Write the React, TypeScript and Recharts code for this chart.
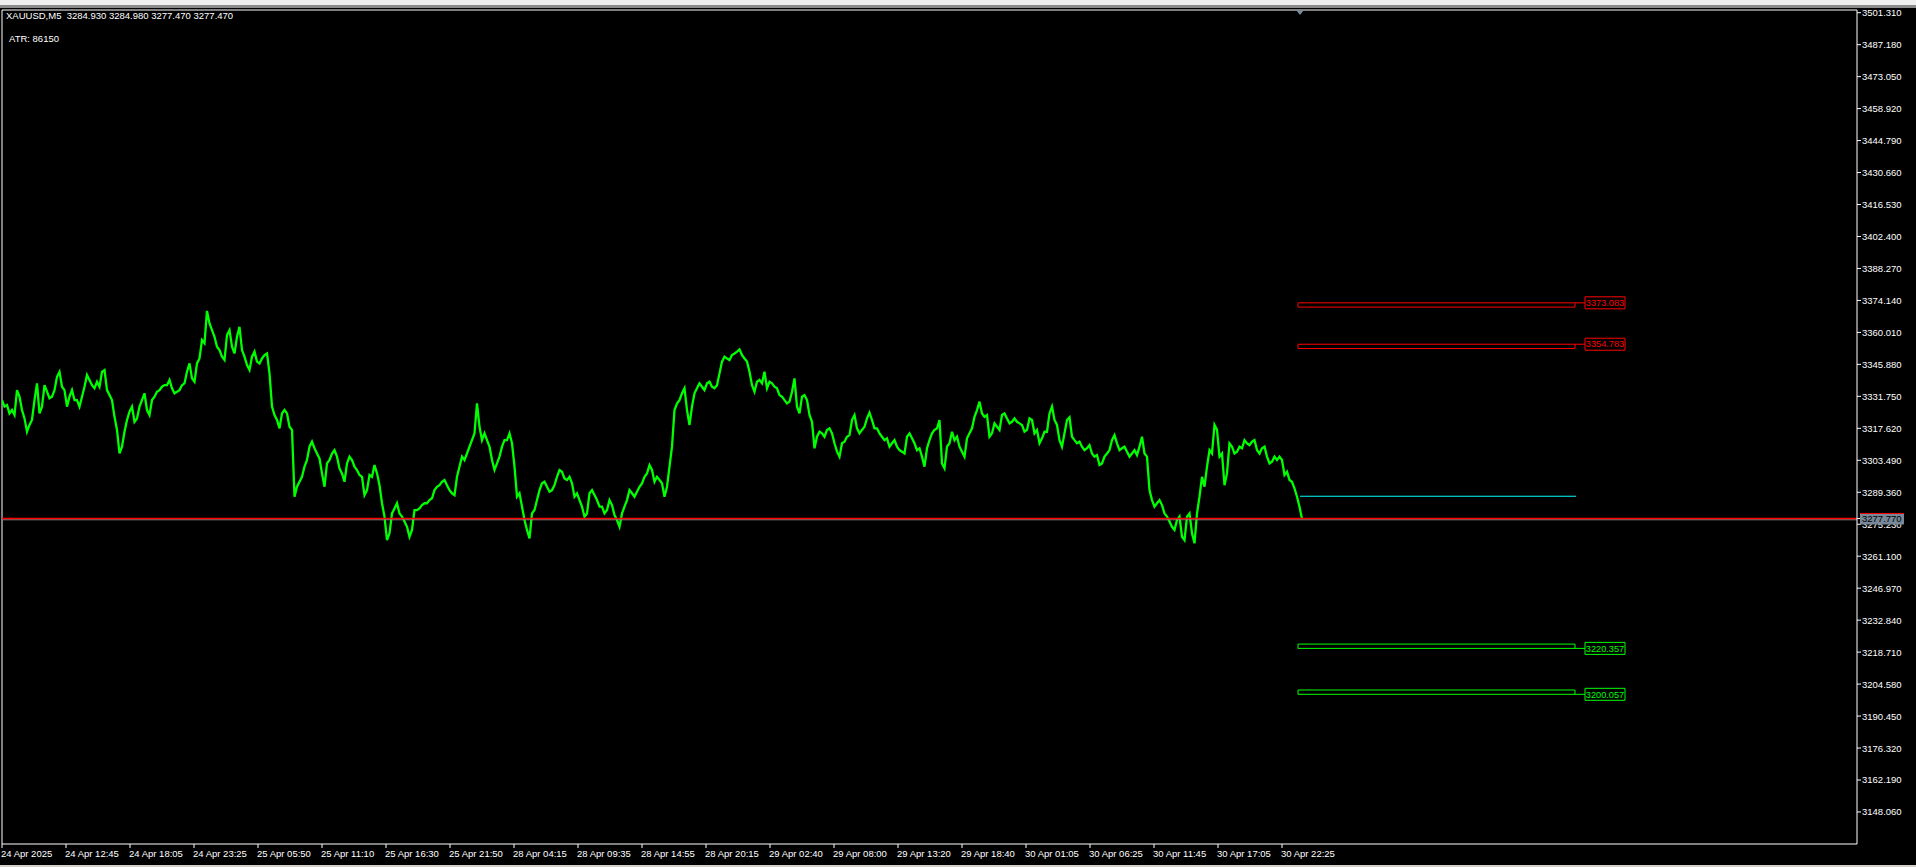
import {
  ComposedChart,
  Line,
  XAxis,
  YAxis,
  ReferenceLine,
  ReferenceArea,
  ReferenceDot,
} from "recharts";

// XAUUSD M5 closes, one value every 5 bars (bar 0 = 24 Apr 2025)
const closes = [
  3330.1, 3327.9, 3325.7, 3334.5, 3325.7, 3316.1, 3321.3, 3337.5, 3327.2, 3333.8,
  3331.6, 3340.4, 3336.0, 3327.2, 3334.5, 3330.1, 3331.6, 3341.2, 3336.7, 3338.2,
  3342.6, 3334.5, 3330.1, 3316.9, 3309.5, 3321.3, 3327.2, 3322.0, 3330.1, 3325.7,
  3330.1, 3333.8, 3336.0, 3336.7, 3335.3, 3333.8, 3336.7, 3342.6, 3339.7, 3346.3,
  3356.6, 3369.5, 3361.0, 3353.7, 3349.3, 3358.8, 3353.7, 3358.1, 3352.2, 3345.6,
  3349.3, 3347.1, 3348.5, 3350.7, 3327.2, 3321.3, 3324.2, 3324.2, 3316.9, 3291.8,
  3296.2, 3303.6, 3311.7, 3306.5, 3297.7, 3302.1, 3306.5, 3305.1, 3297.7, 3302.1,
  3303.6, 3299.2, 3296.2, 3290.3, 3296.2, 3297.7, 3284.5, 3268.2, 3280.0, 3284.5,
  3278.6, 3274.1, 3272.7, 3281.5, 3283.7, 3284.5, 3286.7, 3291.8, 3294.0, 3292.5,
  3288.9, 3296.2, 3305.1, 3306.5, 3312.4, 3328.6, 3312.4, 3312.4, 3303.6, 3302.1,
  3309.5, 3312.4, 3311.0, 3287.4, 3283.0, 3272.7, 3280.0, 3285.9, 3293.3, 3291.8,
  3290.3, 3296.2, 3298.4, 3294.8, 3293.3, 3288.9, 3283.0, 3280.0, 3290.3, 3285.9,
  3283.0, 3281.5, 3283.7, 3277.1, 3280.0, 3285.9, 3288.9, 3289.6, 3293.3, 3297.7,
  3299.2, 3296.2, 3293.3, 3291.8, 3309.5, 3328.6, 3333.1, 3325.7, 3327.2, 3335.3,
  3336.0, 3337.5, 3336.0, 3336.7, 3347.1, 3348.5, 3350.0, 3351.5, 3350.0, 3347.1,
  3336.7, 3338.2, 3337.5, 3335.3, 3337.5, 3335.3, 3331.6, 3328.6, 3333.8, 3327.2,
  3331.6, 3330.1, 3320.5, 3313.9, 3315.4, 3316.9, 3315.4, 3307.3, 3311.0, 3313.9,
  3321.3, 3317.6, 3316.9, 3322.0, 3321.3, 3317.6, 3313.9, 3313.2, 3311.0, 3309.5,
  3307.3, 3313.9, 3313.2, 3308.0, 3305.1, 3308.8, 3315.4, 3317.6, 3302.1, 3309.5,
  3316.1, 3313.9, 3307.3, 3313.2, 3317.6, 3325.7, 3324.2, 3323.5, 3315.4, 3318.3,
  3323.5, 3322.0, 3320.5, 3320.5, 3319.1, 3316.9, 3321.3, 3316.9, 3313.2, 3316.1,
  3327.2, 3319.1, 3309.5, 3321.3, 3313.9, 3311.0, 3309.5, 3308.8, 3306.5, 3305.8,
  3302.1, 3306.5, 3312.4, 3311.0, 3308.8, 3307.3, 3306.5, 3305.8, 3313.9, 3305.1,
  3285.9, 3284.5, 3283.7, 3278.6, 3274.1, 3277.1, 3269.7, 3278.6, 3271.2, 3280.0,
  3296.2, 3300.7, 3306.5, 3316.9, 3306.5, 3297.7, 3309.5, 3307.3, 3308.8, 3311.0,
  3311.7, 3308.0, 3308.8, 3305.1, 3302.9, 3303.6, 3303.6, 3298.4, 3294.0, 3287.4,
  3277.5,
];

// in-between swings, read halfway between the closes above
const swings = [
  3327.2, 3324.2, 3323.5, 3331.6, 3322.0, 3319.1, 3330.1, 3324.2, 3336.7, 3330.9,
  3334.5, 3342.6, 3334.5, 3331.6, 3330.1, 3327.2, 3336.0, 3339.0, 3335.3, 3336.0,
  3343.4, 3332.3, 3322.7, 3306.5, 3316.1, 3325.0, 3320.5, 3327.2, 3333.1, 3323.5,
  3331.6, 3334.5, 3336.7, 3339.0, 3333.1, 3334.5, 3337.5, 3346.3, 3338.2, 3348.5,
  3355.2, 3364.0, 3358.1, 3352.2, 3347.8, 3361.0, 3350.7, 3362.5, 3349.3, 3343.4,
  3351.5, 3346.3, 3350.0, 3341.9, 3323.5, 3317.6, 3325.7, 3318.3, 3287.4, 3294.0,
  3300.7, 3309.5, 3308.8, 3304.3, 3291.8, 3303.6, 3308.0, 3299.9, 3294.0, 3305.1,
  3300.7, 3297.0, 3288.1, 3297.0, 3301.4, 3292.5, 3278.6, 3271.2, 3282.2, 3280.0,
  3276.4, 3269.7, 3281.5, 3282.2, 3284.5, 3285.9, 3290.3, 3292.5, 3294.8, 3290.3,
  3288.1, 3300.7, 3303.6, 3309.5, 3315.4, 3318.3, 3315.4, 3309.5, 3299.2, 3305.1,
  3312.4, 3315.4, 3300.7, 3288.9, 3277.1, 3269.0, 3281.5, 3290.3, 3294.0, 3289.6,
  3292.5, 3299.2, 3295.5, 3296.2, 3287.4, 3285.9, 3278.6, 3288.9, 3288.1, 3283.0,
  3280.0, 3285.9, 3279.3, 3274.1, 3283.0, 3290.3, 3287.4, 3291.8, 3296.2, 3301.4,
  3294.0, 3294.8, 3287.4, 3300.7, 3325.7, 3330.1, 3335.3, 3319.1, 3333.1, 3337.5,
  3334.5, 3338.2, 3335.3, 3341.9, 3349.3, 3347.8, 3350.7, 3352.5, 3348.5, 3342.6,
  3333.8, 3339.0, 3342.6, 3338.2, 3336.0, 3332.3, 3330.1, 3329.4, 3339.7, 3324.2,
  3332.3, 3323.5, 3308.8, 3316.1, 3313.9, 3317.6, 3311.0, 3305.1, 3311.7, 3314.6,
  3323.5, 3315.4, 3318.3, 3324.5, 3317.6, 3315.4, 3312.4, 3309.5, 3312.4, 3308.0,
  3306.5, 3315.4, 3311.0, 3308.8, 3300.7, 3312.4, 3316.9, 3321.3, 3299.9, 3311.0,
  3312.4, 3309.5, 3305.1, 3315.4, 3322.7, 3329.4, 3322.7, 3313.9, 3319.8, 3316.9,
  3324.2, 3319.8, 3322.0, 3319.8, 3316.1, 3322.0, 3315.4, 3311.0, 3316.1, 3324.2,
  3321.3, 3312.4, 3315.4, 3322.5, 3312.4, 3311.7, 3308.0, 3310.2, 3305.1, 3301.4,
  3305.1, 3308.0, 3314.6, 3308.0, 3309.5, 3305.1, 3308.0, 3309.5, 3306.5, 3290.3,
  3283.0, 3285.9, 3280.0, 3276.4, 3272.7, 3278.6, 3268.2, 3280.0, 3266.8, 3287.4,
  3291.8, 3308.0, 3319.1, 3305.1, 3292.5, 3311.0, 3306.5, 3309.5, 3312.4, 3310.2,
  3312.4, 3306.5, 3309.5, 3302.1, 3305.1, 3305.1, 3297.0, 3294.8, 3291.1, 3283.0,
];
const barStep = 5;

const timeLabels = [
  "24 Apr 2025", "24 Apr 12:45", "24 Apr 18:05", "24 Apr 23:25", "25 Apr 05:50",
  "25 Apr 11:10", "25 Apr 16:30", "25 Apr 21:50", "28 Apr 04:15", "28 Apr 09:35",
  "28 Apr 14:55", "28 Apr 20:15", "29 Apr 02:40", "29 Apr 08:00", "29 Apr 13:20",
  "29 Apr 18:40", "30 Apr 01:05", "30 Apr 06:25", "30 Apr 11:45", "30 Apr 17:05",
  "30 Apr 22:25",
];
const barsPerLabel = 64;

const priceTicks = [
  3501.31, 3487.18, 3473.05, 3458.92, 3444.79, 3430.66, 3416.53, 3402.4, 3388.27,
  3374.14, 3360.01, 3345.88, 3331.75, 3317.62, 3303.49, 3289.36, 3275.23, 3261.1,
  3246.97, 3232.84, 3218.71, 3204.58, 3190.45, 3176.32, 3162.19, 3148.06,
];

const bidPrice = 3277.77;
const askShade = 3277.2;
const entryLevel = 3287.6;
const resistanceLevels = [3373.083, 3354.783];
const supportLevels = [3220.357, 3200.057];
const zoneDepth = 1.9;
const tagHalf = 2.65;
const zoneFrom = 1296;
const zoneTo = 1573;
const tagFrom = 1583;
const tagTo = 1623;
const lastBar = 1298;

const priceMin = 3133.9;
const priceMax = 3502.5;
const barMax = 1855;

const FONT = '"Liberation Sans", Arial, sans-serif';

const data = closes.flatMap((price, i) => {
  const pts = [{ bar: i * barStep, price }];
  if (i < swings.length) pts.push({ bar: i * barStep + barStep / 2, price: swings[i] });
  return pts;
});
const timeTicks = timeLabels.map((_, i) => i * barsPerLabel);

function TimeTick(props: any) {
  const { x, y, payload } = props;
  const label = timeLabels[timeTicks.indexOf(payload.value)];
  return (
    <text x={x - 1} y={y + 7} fill="#ffffff" fontSize={9.5} fontFamily={FONT}>
      {label}
    </text>
  );
}

function PriceTick(props: any) {
  const { x, y, payload } = props;
  if (payload.value === bidPrice) {
    return (
      <g>
        <rect x={x - 2} y={y - 5} width={44} height={11} fill="#778899" />
        <line x1={x - 2} x2={x + 42} y1={y - 5} y2={y - 5} stroke="#ff0000" />
        <text x={x} y={y + 0.5} dominantBaseline="central" fill="#000000" fontSize={9.5} fontFamily={FONT}>
          {bidPrice.toFixed(3)}
        </text>
      </g>
    );
  }
  return (
    <text x={x} y={y} dominantBaseline="central" fill="#ffffff" fontSize={9.5} fontFamily={FONT}>
      {Number(payload.value).toFixed(3)}
    </text>
  );
}

function Marker(props: any) {
  const { cx, cy } = props;
  return <path d={`M${cx - 4},${cy} L${cx + 4},${cy} L${cx},${cy + 5} Z`} fill="#778899" />;
}

// red zones hang below their level, green zones sit on top of it
function levelZone(level: number, color: string, below: boolean, key: string) {
  const y1 = below ? level - zoneDepth : level;
  const y2 = below ? level : level + zoneDepth;
  return [
    <ReferenceArea key={key + "z"} x1={zoneFrom} x2={zoneTo} y1={y1} y2={y2}
      fill="none" fillOpacity={0} stroke={color} strokeWidth={1} />,
    <ReferenceLine key={key + "c"} segment={[{ x: zoneTo, y: level }, { x: tagFrom, y: level }]}
      stroke={color} strokeWidth={1} />,
    <ReferenceArea key={key + "t"} x1={tagFrom} x2={tagTo} y1={level - tagHalf} y2={level + tagHalf}
      fill="#000000" fillOpacity={1} stroke={color} strokeWidth={1}
      label={{ value: level.toFixed(3), position: "center", fill: color, fontSize: 9.2, fontFamily: FONT }} />,
  ];
}

export default function App() {
  return (
    <div style={{ position: "fixed", left: 0, top: 0, width: 1916, height: 867, background: "#000000", overflow: "hidden" }}>
      <div style={{ position: "absolute", left: 0, top: 0, width: 1916, height: 5, background: "#f0f0f0" }} />
      <div style={{ position: "absolute", left: 0, top: 5, width: 1916, height: 3, background: "#8c8c8c" }} />
      <div style={{ position: "absolute", left: 0, top: 865, width: 1916, height: 2, background: "#d4d0c8" }} />
      <ComposedChart
        width={1916}
        height={867}
        data={data}
        margin={{ top: 10, right: 0, bottom: 0, left: 2 }}
        style={{ position: "absolute", left: 0, top: 0 }}
      >
        <XAxis
          dataKey="bar"
          type="number"
          domain={[0, barMax]}
          ticks={timeTicks}
          tick={<TimeTick />}
          height={23}
          tickSize={4}
          tickMargin={2}
          stroke="#ffffff"
          axisLine={{ stroke: "#ffffff" }}
          tickLine={{ stroke: "#ffffff" }}
          interval={0}
          allowDataOverflow
        />
        <YAxis
          orientation="right"
          type="number"
          domain={[priceMin, priceMax]}
          ticks={[...priceTicks, bidPrice]}
          tick={<PriceTick />}
          width={59}
          tickSize={4}
          tickMargin={1}
          stroke="#ffffff"
          axisLine={{ stroke: "#ffffff" }}
          tickLine={{ stroke: "#ffffff" }}
          interval={0}
          allowDataOverflow
        />
        <ReferenceLine y={priceMax} stroke="#ffffff" />
        <ReferenceLine x={0} stroke="#ffffff" />
        {resistanceLevels.map((l, i) => levelZone(l, "#ff0000", true, "r" + i))}
        {supportLevels.map((l, i) => levelZone(l, "#00ff00", false, "s" + i))}
        <ReferenceLine segment={[{ x: lastBar, y: entryLevel }, { x: zoneTo + 1, y: entryLevel }]} stroke="#00ffff" />
        <Line
          dataKey="price"
          type="linear"
          stroke="#00ff00"
          strokeWidth={2.3}
          strokeLinejoin="miter"
          dot={false}
          isAnimationActive={false}
        />
        <ReferenceLine y={askShade} stroke="#8c8c8c" />
        <ReferenceLine y={bidPrice} stroke="#ff0000" strokeWidth={1.5} />
        <ReferenceDot x={lastBar} y={priceMax} r={4} shape={<Marker />} />
      </ComposedChart>
      <div style={{ position: "absolute", left: 6, top: 10, color: "#ffffff", fontFamily: FONT, fontSize: 9.5, lineHeight: "12px", whiteSpace: "pre" }}>
        {"XAUUSD,M5  3284.930 3284.980 3277.470 3277.470"}
      </div>
      <div style={{ position: "absolute", left: 9, top: 33, color: "#ffffff", fontFamily: FONT, fontSize: 9.5, lineHeight: "12px", whiteSpace: "pre" }}>
        {"ATR: 86150"}
      </div>
    </div>
  );
}
